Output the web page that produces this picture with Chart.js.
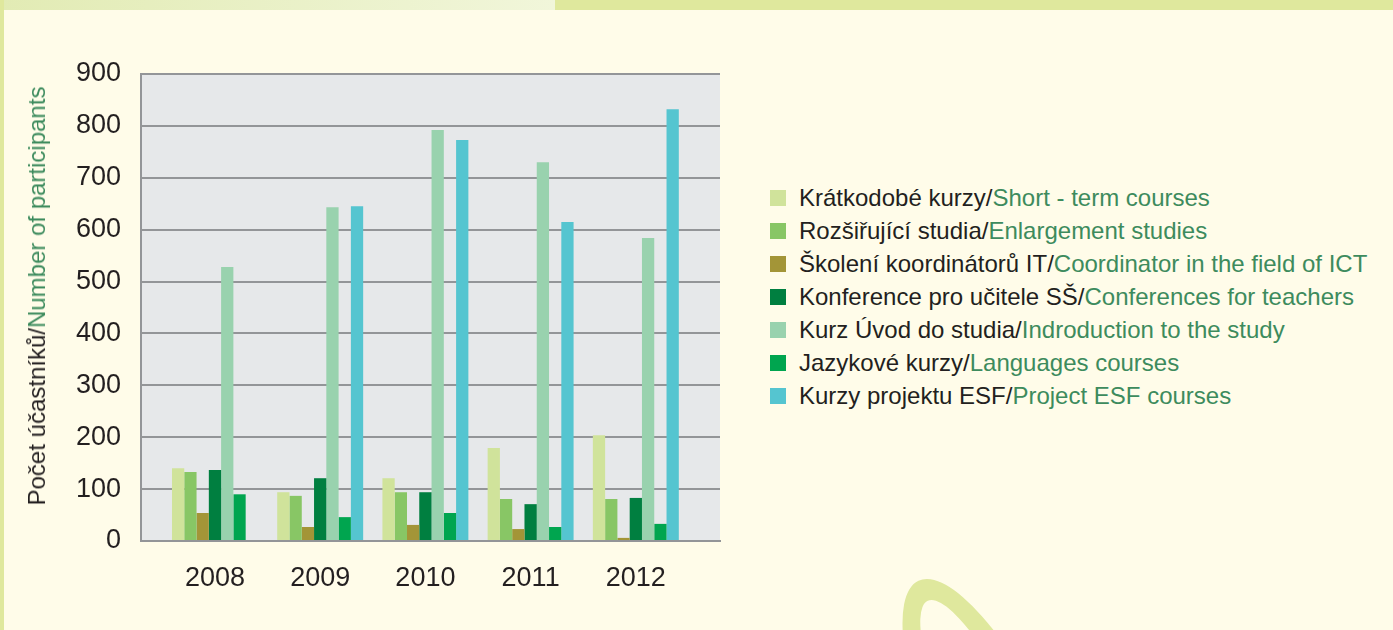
<!DOCTYPE html>
<html lang="cs">
<head>
<meta charset="utf-8">
<title>Počet účastníků</title>
<script src="https://cdn.jsdelivr.net/npm/chart.js@4/dist/chart.umd.min.js"></script>
<style>
  body {
    margin: 0;
    width: 1393px;
    height: 630px;
    background: #fffce9;
    overflow: hidden;
    position: relative;
    font-family: "Liberation Sans", Arial, sans-serif;
    color: #231f20;
  }
  .band { position: absolute; left: 0; top: 0; width: 1393px; height: 10px; background: #dfe89d; }
  .band-light { position: absolute; left: 0; top: 0; width: 555px; height: 10px;
    background: linear-gradient(90deg, #e2ebb4, #f1f6da); }
  .strip { position: absolute; left: 0; top: 0; width: 4px; height: 630px; background: #dfe89d; }
  .swirl { position: absolute; left: 943px; top: 562px; width: 120px; height: 400px;
    border: 22px solid #dfe89d; border-radius: 50%; box-sizing: border-box;
    transform: rotate(-25deg); }
  #chart { position: absolute; left: 0; top: 0; }
  .ytitle { position: absolute; left: 37px; top: 296px; white-space: nowrap; font-size: 24px;
    transform: translate(-50%, -50%) rotate(-90deg); }
  .en { color: #3d8b5d; }
  #legend { position: absolute; left: 770px; top: 181px; margin: 0; padding: 0; list-style: none; font-size: 24px; }
  #legend li { height: 33px; display: flex; align-items: center; white-space: nowrap; }
  #legend .box { width: 16px; height: 16px; margin-right: 13px; flex: none; }
</style>
</head>
<body>
<div class="band"></div>
<div class="band-light"></div>
<div class="strip"></div>
<div class="swirl"></div>
<canvas id="chart" width="740" height="630"></canvas>
<div class="ytitle">Počet účastníků/<span class="en">Number of participants</span></div>
<ul id="legend"></ul>
<script>
const YEARS = [2008, 2009, 2010, 2011, 2012];

const SERIES_CZ = ['Krátkodobé kurzy/', 'Rozšiřující studia/', 'Školení koordinátorů IT/',
  'Konference pro učitele SŠ/', 'Kurz Úvod do studia/', 'Jazykové kurzy/', 'Kurzy projektu ESF/'];
const SERIES_EN = ['Short - term courses', 'Enlargement studies', 'Coordinator in the field of ICT',
  'Conferences for teachers', 'Indroduction to the study', 'Languages courses', 'Project ESF courses'];
const COLORS = ['#d0e39b', '#88c665', '#a39537', '#007f40', '#99d2ae', '#00a54f', '#55c5d0'];

const SHORT_TERM = [140, 94, 121, 179, 204];
const ENLARGEMENT = [133, 87, 94, 81, 81];
const ICT_COORD = [54, 27, 31, 23, 6];
const CONFERENCES = [137, 121, 94, 71, 83];
const INTRO_STUDY = [528, 643, 792, 730, 584];
const LANGUAGES = [90, 46, 54, 27, 33];
const ESF_PROJECT = [null, 645, 773, 615, 832];

const Y_MAX = 900;
const Y_STEP = 100;

const allSeries = [SHORT_TERM, ENLARGEMENT, ICT_COORD, CONFERENCES, INTRO_STUDY, LANGUAGES, ESF_PROJECT];

const plotBackground = {
  id: 'plotBackground',
  beforeDraw(chart) {
    const {ctx, chartArea: {left, top, width, height}} = chart;
    ctx.save();
    ctx.fillStyle = '#e6e8ea';
    ctx.fillRect(left, top, width, height);
    ctx.restore();
  }
};

const gridGray = '#939598';
const tickFont = {family: '"Liberation Sans", Arial, sans-serif', size: 27};

new Chart(document.getElementById('chart'), {
  type: 'bar',
  data: {
    datasets: allSeries.map((vals, i) => ({
      label: SERIES_CZ[i] + SERIES_EN[i],
      data: YEARS.map((yr, j) => ({x: yr, y: vals[j]})),
      backgroundColor: COLORS[i],
      borderWidth: 0
    }))
  },
  options: {
    responsive: false,
    animation: false,
    categoryPercentage: 0.817,
    barPercentage: 1,
    layout: {padding: {top: 74, right: 20, bottom: 0, left: 0}},
    plugins: {legend: {display: false}, tooltip: {enabled: false}},
    scales: {
      x: {
        type: 'linear',
        offset: false,
        min: 2007.297,
        max: 2012.8,
        afterBuildTicks: scale => { scale.ticks = YEARS.map(v => ({value: v})); },
        afterFit: scale => { scale.height = 89; },
        grid: {display: false},
        border: {display: true, color: gridGray, width: 2},
        ticks: {
          padding: 13,
          color: '#231f20',
          font: tickFont,
          callback: v => String(v)
        }
      },
      y: {
        min: 0,
        max: Y_MAX,
        afterFit: scale => { scale.width = 141; },
        grid: {color: gridGray, lineWidth: 2, drawTicks: false},
        border: {display: true, color: gridGray, width: 2},
        ticks: {
          stepSize: Y_STEP,
          padding: 20,
          color: '#231f20',
          font: tickFont
        }
      }
    }
  },
  plugins: [plotBackground]
});

const legend = document.getElementById('legend');
SERIES_CZ.forEach((cz, i) => {
  const li = document.createElement('li');
  li.innerHTML = `<span class="box" style="background:${COLORS[i]}"></span>${cz}<span class="en">${SERIES_EN[i]}</span>`;
  legend.appendChild(li);
});
</script>
</body>
</html>
